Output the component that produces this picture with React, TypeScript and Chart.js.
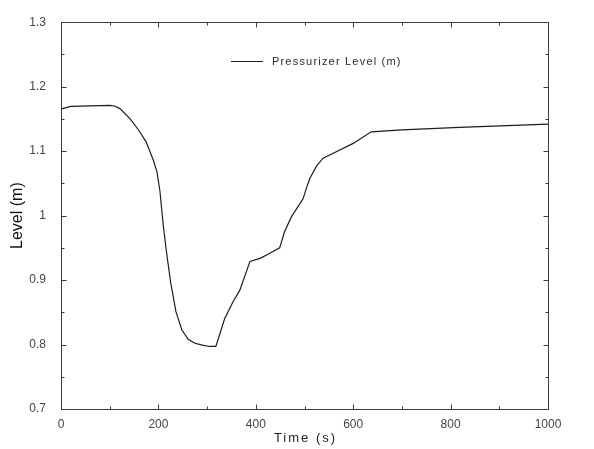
import React, { useEffect, useRef } from 'react';
import { Chart, registerables } from 'chart.js';

Chart.register(...registerables);

const timeS = [0, 3, 20, 100, 110, 121, 142, 160, 175, 190, 197, 203, 210, 216, 225, 236, 248, 261, 275, 290, 305, 318, 336, 353, 367, 388, 410, 425, 449, 459, 473, 497, 505, 511, 525, 538, 560, 600, 637, 700, 818, 1000];
const levelM = [1.165, 1.166, 1.1695, 1.171, 1.170, 1.166, 1.150, 1.132, 1.114, 1.085, 1.068, 1.039, 0.985, 0.947, 0.897, 0.851, 0.823, 0.808, 0.802, 0.799, 0.797, 0.797, 0.840, 0.866, 0.884, 0.929, 0.934, 0.940, 0.950, 0.975, 0.998, 1.026, 1.045, 1.058, 1.077, 1.089, 1.097, 1.112, 1.130, 1.133, 1.137, 1.142];

const seriesLabel = 'Pressurizer Level (m)';
const xTitle = 'Time (s)';
const yTitle = 'Level (m)';
const xMin = 0, xMax = 1000, xMajor = 200, xMinor = 100;
const yMin = 0.7, yMax = 1.3, yMajor = 0.1, yMinor = 0.05;

const FONT = '"Liberation Sans", Arial, sans-serif';

const framePlugin = {
  id: 'frame',
  afterDraw(chart: any) {
    const { ctx, chartArea: a, scales } = chart;
    const xs = scales.x, ys = scales.y;
    const L = Math.round(a.left) + 0.5, R = Math.round(a.right) + 0.5;
    const T = Math.round(a.top) + 0.5, B = Math.round(a.bottom) + 0.5;
    ctx.save();
    ctx.strokeStyle = '#3c3c3c';
    ctx.lineWidth = 1;
    ctx.strokeRect(L, T, R - L, B - T);
    ctx.beginPath();
    const nx = Math.round((xMax - xMin) / xMinor);
    for (let i = 0; i <= nx; i++) {
      const v = xMin + i * xMinor;
      const px = Math.round(xs.getPixelForValue(v)) + 0.5;
      const len = Math.abs((v / xMajor) - Math.round(v / xMajor)) < 1e-6 ? 5 : 3;
      ctx.moveTo(px, B); ctx.lineTo(px, B - len);
      ctx.moveTo(px, T); ctx.lineTo(px, T + len);
    }
    const ny = Math.round((yMax - yMin) / yMinor);
    for (let i = 0; i <= ny; i++) {
      const v = yMin + i * yMinor;
      const py = Math.round(ys.getPixelForValue(v)) + 0.5;
      const len = i % 2 === 0 ? 5 : 3;
      ctx.moveTo(L, py); ctx.lineTo(L + len, py);
      ctx.moveTo(R, py); ctx.lineTo(R - len, py);
    }
    ctx.stroke();

    // x axis title with letter spacing
    ctx.fillStyle = '#222';
    ctx.font = `13px ${FONT}`;
    (ctx as any).letterSpacing = '2px';
    ctx.textAlign = 'center';
    ctx.textBaseline = 'middle';
    ctx.fillText(xTitle, (a.left + a.right) / 2 + 1, 438);

    // legend
    const lx = a.left + 0.349 * (a.right - a.left);
    const ly = 61.5;
    ctx.strokeStyle = '#1a1a1a';
    ctx.lineWidth = 1.2;
    ctx.beginPath();
    ctx.moveTo(lx, ly); ctx.lineTo(lx + 32, ly);
    ctx.stroke();
    ctx.font = `11px ${FONT}`;
    (ctx as any).letterSpacing = '1.2px';
    ctx.textAlign = 'left';
    ctx.fillStyle = '#2a2a2a';
    ctx.fillText(seriesLabel, lx + 41, ly);
    (ctx as any).letterSpacing = '0px';
    ctx.restore();
  },
};

export default function App() {
  const ref = useRef<HTMLCanvasElement | null>(null);
  useEffect(() => {
    if (!ref.current) return;
    const chart = new Chart(ref.current, {
      type: 'line',
      data: {
        datasets: [{
          label: seriesLabel,
          data: timeS.map((t, i) => ({ x: t, y: levelM[i] })),
          borderColor: '#1c1c1c',
          borderWidth: 1.2,
          pointRadius: 0,
          tension: 0,
          fill: false,
        }],
      },
      options: {
        animation: false,
        responsive: false,
        devicePixelRatio: 1,
        layout: { padding: { top: 15, right: 46, left: 0, bottom: 0 } },
        plugins: { legend: { display: false }, tooltip: { enabled: false } },
        scales: {
          x: {
            type: 'linear',
            min: xMin, max: xMax,
            grid: { display: false, drawTicks: false },
            border: { display: false },
            ticks: {
              stepSize: xMajor,
              padding: 8,
              color: '#444',
              font: { family: FONT, size: 12 },
              callback: (v: any) => String(v),
              maxRotation: 0,
            },
            title: { display: false },
            afterFit: (s: any) => { s.height = 40; },
          },
          y: {
            type: 'linear',
            min: yMin, max: yMax,
            grid: { display: false, drawTicks: false },
            border: { display: false },
            ticks: {
              stepSize: yMajor,
              padding: 15,
              color: '#444',
              font: { family: FONT, size: 12 },
              callback: (v: any) => String(+Number(v).toFixed(2)),
            },
            title: {
              display: true,
              text: yTitle,
              color: '#111',
              font: { family: FONT, size: 16 },
              padding: { top: 8, bottom: 0 },
            },
            afterFit: (s: any) => { s.width = 61; },
          },
        },
      },
      plugins: [framePlugin],
    });
    return () => chart.destroy();
  }, []);
  return (
    <div style={{ position: 'absolute', left: 0, top: 0, width: 594, height: 449, background: '#fff' }}>
      <canvas ref={ref} width={594} height={449} style={{ display: 'block' }} />
    </div>
  );
}
